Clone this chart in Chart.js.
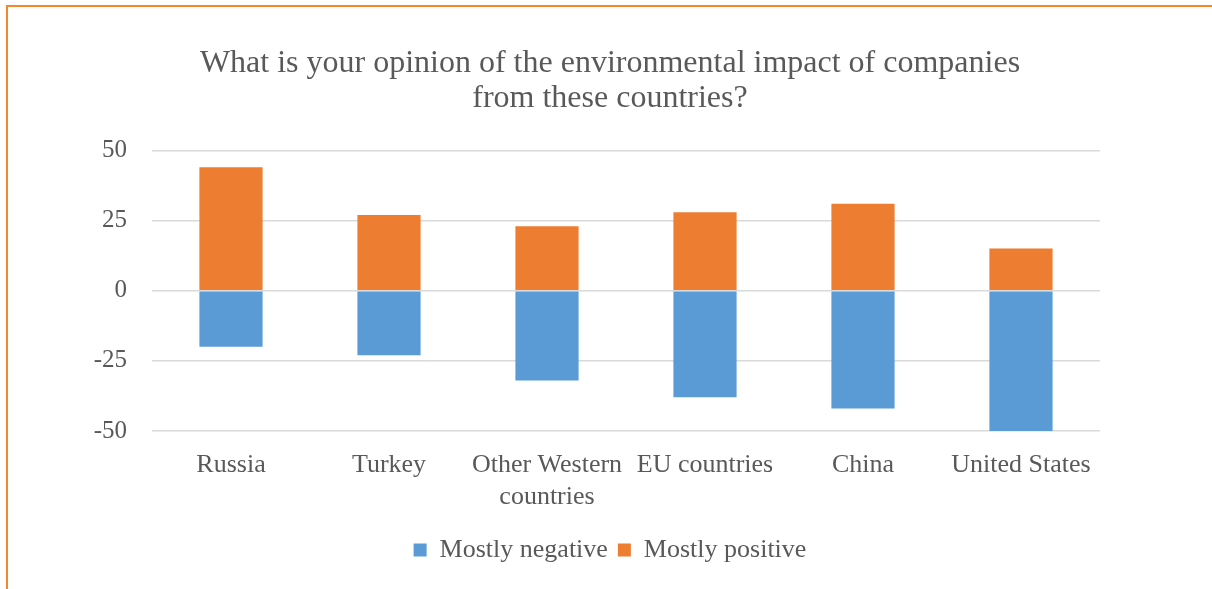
<!DOCTYPE html>
<html>
<head>
<meta charset="utf-8">
<script src="https://cdn.jsdelivr.net/npm/chart.js@4.4.1/dist/chart.umd.min.js"></script>
<style>
  body { margin: 0; background: #fff; }
  #wrap { position: relative; width: 1212px; height: 589px; overflow: hidden; }
  #frame { position: absolute; left: 6px; top: 5px; width: 1300px; height: 700px;
           border-top: 2px solid #F5862A; border-left: 2px solid #F5862A; pointer-events: none; }
</style>
</head>
<body>
<div id="wrap">
  <canvas id="chart" width="1212" height="589"></canvas>
  <div id="frame"></div>
</div>
<script>
// values
var countries = ['Russia', 'Turkey', ['Other Western', 'countries'], 'EU countries', 'China', 'United States'];
var negativo = [-20, -23, -32, -38, -42, -50];
var positivo = [44, 27, 23, 28, 31, 15];
var ticksY = [-50, -25, 0, 25, 50];

var gris = '#595959';
var serif = 'Liberation Serif';

new Chart(document.getElementById('chart'), {
    type: 'bar',
    data: {
        labels: countries,
        datasets: [
            {
                label: 'Mostly negative',
                data: negativo,
                backgroundColor: '#5B9BD5',
                stack: 's'
            },
            {
                label: 'Mostly positive',
                data: positivo,
                backgroundColor: '#ED7D31',
                stack: 's'
            }
        ]
    },
    options: {
        responsive: false,
        animation: false,
        layout: { padding: { left: 8, right: 0, top: 0, bottom: 16 } },
        plugins: {
            title: {
                display: true,
                text: ['What is your opinion of the environmental impact of companies', 'from these countries?'],
                color: gris,
                font: { family: serif, size: 32, weight: 'normal', lineHeight: 1.1 },
                padding: { top: 46, bottom: 34 }
            },
            legend: {
                position: 'bottom',
                labels: {
                    color: gris,
                    font: { family: serif, size: 26 },
                    boxWidth: 13,
                    boxHeight: 13,
                    padding: 10
                }
            },
            tooltip: { enabled: false }
        },
        datasets: {
            bar: { categoryPercentage: 1, barPercentage: 0.4 }
        },
        scales: {
            x: {
                stacked: true,
                grid: { display: false },
                border: { display: false },
                ticks: {
                    color: gris,
                    font: { family: serif, size: 26, lineHeight: 1.2 },
                    maxRotation: 0,
                    autoSkip: false,
                    padding: 11
                },
                afterFit: function(scale){ scale.height = 96; }
            },
            y: {
                stacked: true,
                min: ticksY[0],
                max: ticksY[ticksY.length - 1],
                afterBuildTicks: function(scale){
                    scale.ticks = ticksY.map(function(v){ return { value: v }; });
                },
                grid: { color: '#d9d9d9', lineWidth: 1.5, drawTicks: false },
                border: { display: false },
                ticks: {
                    color: gris,
                    font: { family: serif, size: 25 },
                    padding: 25
                },
                afterFit: function(scale){ scale.width = 144; }
            },
            // empty right margin so the title and legend stay centred on the whole page
            margen: {
                position: 'right',
                grid: { display: false },
                border: { display: false },
                ticks: { display: false },
                afterFit: function(scale){ scale.width = 112; }
            }
        }
    }
});
</script>
</body>
</html>
